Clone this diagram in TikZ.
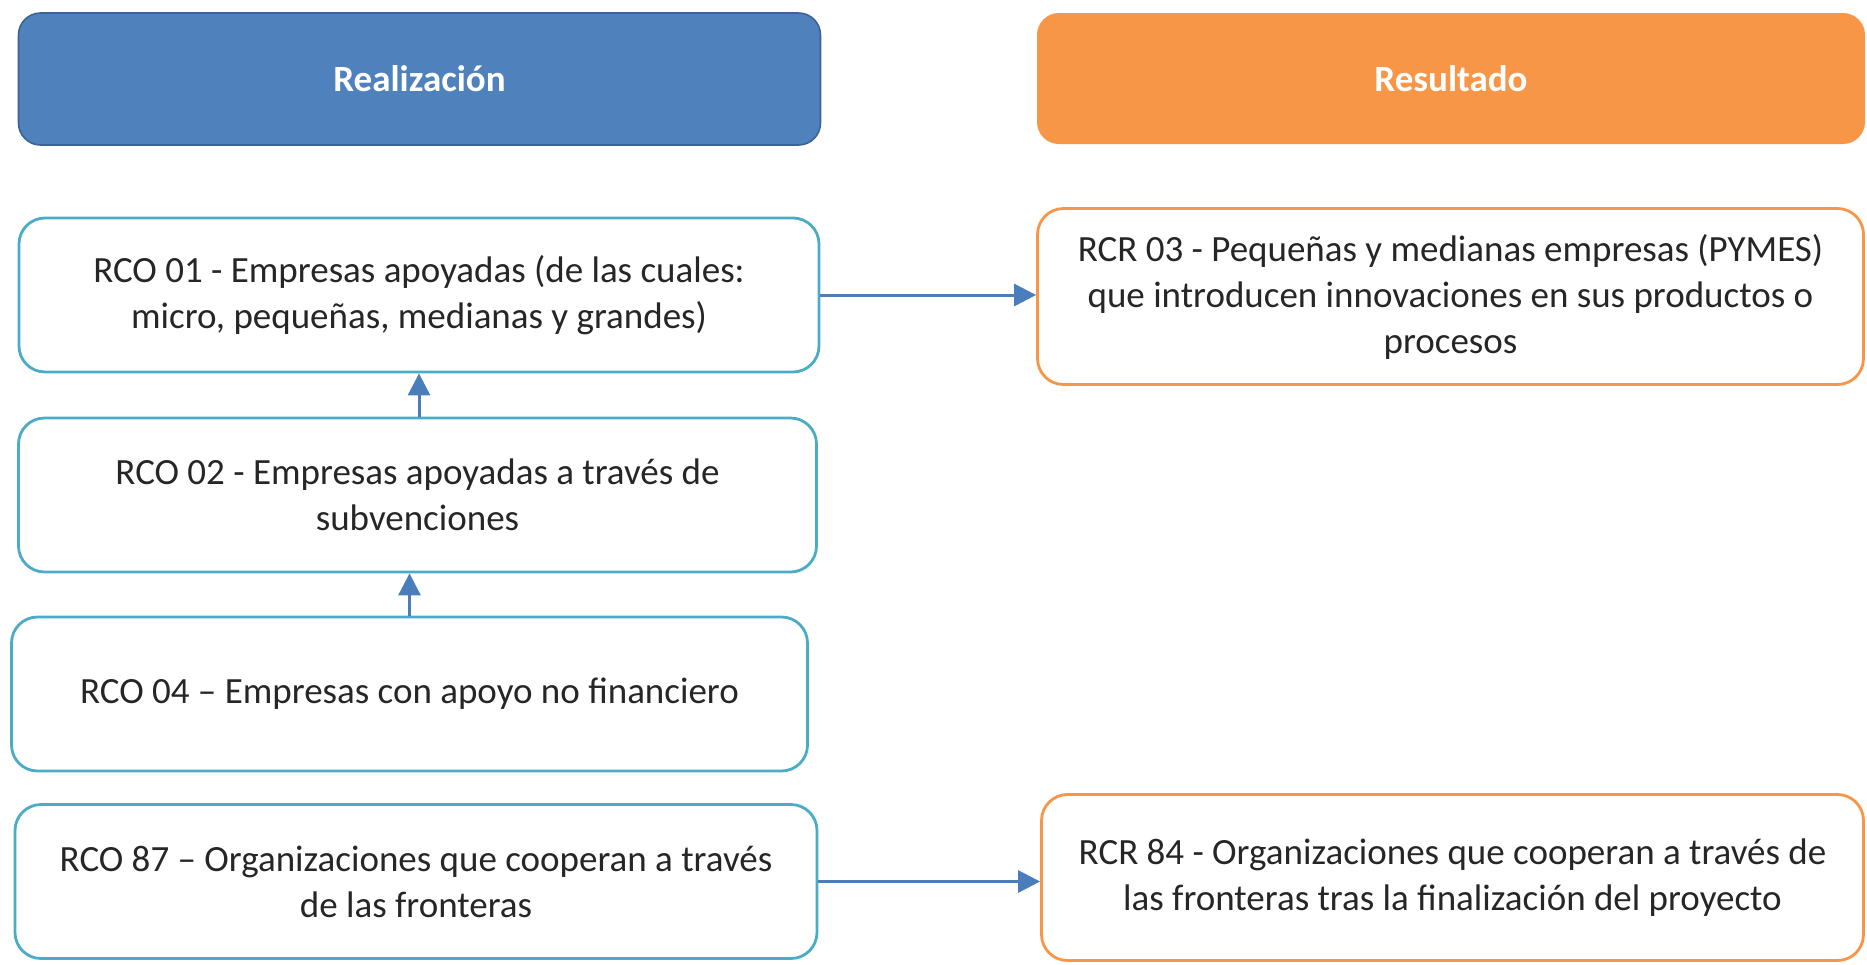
\documentclass[tikz,border=0pt]{standalone}
\usepackage{fontspec}
\setmainfont{Carlito}
\usetikzlibrary{arrows.meta}
\definecolor{hblue}{HTML}{4F81BD}
\definecolor{hblueline}{HTML}{3B6494}
\definecolor{horange}{HTML}{F79646}
\definecolor{lblue}{HTML}{4BACC6}
\definecolor{arrblue}{HTML}{4A7EBB}
\definecolor{txt}{HTML}{262626}
\tikzset{
  hdr/.style={rounded corners=11pt, inner sep=0pt, text=white, font=\fontsize{18.5}{22}\selectfont\bfseries},
  lbox/.style={draw=lblue, line width=1.4pt, rounded corners=13pt, fill=white, align=center, inner sep=0pt, text=txt, font=\fontsize{18.5}{23}\selectfont},
  rbox/.style={lbox, draw=horange},
  arr/.style={draw=arrblue, line width=1.5pt, -{Triangle[length=11pt,width=11pt]}},
}
\begin{document}
\begin{tikzpicture}[x=0.5pt,y=-0.5pt]
\useasboundingbox (0,0) rectangle (1867,964);
\node[hdr, fill=hblue, draw=hblueline, line width=0.8pt, minimum width=401pt, minimum height=66pt] (hl) at (419.5,79) {Realización};
\node[hdr, fill=horange, minimum width=414pt, minimum height=65.5pt] (hr) at (1451,78.5) {Resultado};
\node[lbox, minimum width=400pt, minimum height=77pt] (r01) at (419,295) {RCO 01 - Empresas apoyadas (de las cuales:\\micro, pequeñas, medianas y grandes)};
\node[rbox, minimum width=413pt, minimum height=88pt] (c03) at (1450.5,296.5) {RCR 03 - Pequeñas y medianas empresas (PYMES)\\que introducen innovaciones en sus productos o\\procesos};
\node[lbox, minimum width=399pt, minimum height=77pt] (r02) at (417.5,495) {RCO 02 - Empresas apoyadas a través de\\subvenciones};
\node[lbox, minimum width=398pt, minimum height=77pt] (r04) at (409.5,694) {RCO 04 – Empresas con apoyo no financiero};
\node[lbox, minimum width=401pt, minimum height=77pt] (r87) at (416,881.5) {RCO 87 – Organizaciones que cooperan a través\\de las fronteras};
\node[rbox, minimum width=411pt, minimum height=83pt] (c84) at (1452.5,877.5) {RCR 84 - Organizaciones que cooperan a través de\\las fronteras tras la finalización del proyecto};
\draw[arr] (r01.east) -- (c03.west |- r01.east);
\draw[arr] (r87.east) -- (c84.west |- r87.east);
\draw[arr] (r02.north -| r01.south) -- (r01.south);
\draw[arr] (r04.north) -- (r04.north |- r02.south);
\end{tikzpicture}
\end{document}
